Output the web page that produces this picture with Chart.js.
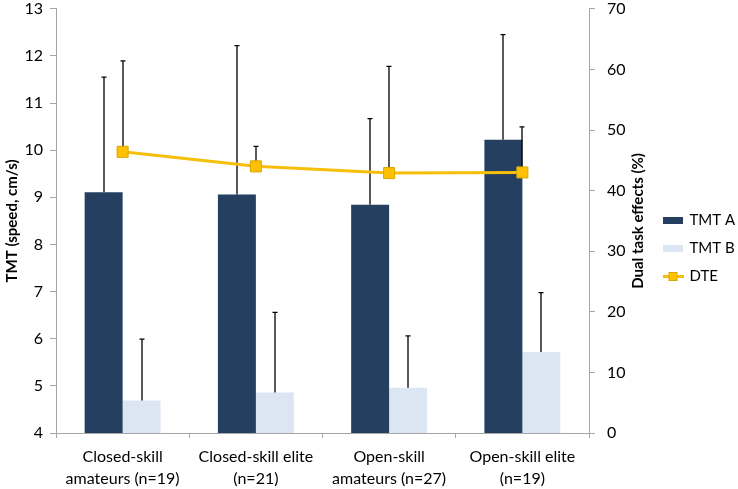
<!DOCTYPE html>
<html>
<head>
<meta charset="utf-8">
<script src="https://cdn.jsdelivr.net/npm/chart.js@4"></script>
<style>
  html, body { margin: 0; padding: 0; background: #fff; }
</style>
</head>
<body>
<canvas id="dteChart" width="738" height="489"></canvas>
<script>
// groups on the x axis (two lines each)
const groups = [
  ['Closed-skill', 'amateurs (n=19)'],
  ['Closed-skill elite', '(n=21)'],
  ['Open-skill', 'amateurs (n=27)'],
  ['Open-skill elite', '(n=19)']
];

// TMT speed (cm/s), left axis
const tmtA = [9.11, 9.06, 8.84, 10.22];
const tmtASd = [2.44, 3.16, 1.83, 2.23];
const tmtB = [4.69, 4.86, 4.96, 5.72];
const tmtBSd = [1.30, 1.70, 1.10, 1.26];

// dual task effects (%), right axis
const dte = [46.4, 44.0, 42.9, 43.0];
const dteSd = [15.0, 3.3, 17.6, 7.5];

const leftTicks = { min: 4, max: 13, step: 1 };
const rightTicks = { min: 0, max: 70, step: 10 };

const navy = '#243F60';
const pale = '#DCE6F2';
const gold = '#F5BF0A';
const axisGrey = '#A6A6A6';
const font = 'Lato, "Open Sans", sans-serif';

// little pictures for the legend
function swatch(color) {
  const c = document.createElement('canvas');
  c.width = 20; c.height = 7;
  const g = c.getContext('2d');
  g.fillStyle = color;
  g.fillRect(0, 0, 20, 7);
  return c;
}
function lineSwatch() {
  const c = document.createElement('canvas');
  c.width = 21; c.height = 9;
  const g = c.getContext('2d');
  g.fillStyle = gold;
  g.fillRect(0, 3, 21, 3);
  g.fillStyle = '#FFC000';
  g.fillRect(6.5, 0.5, 8, 8);
  g.strokeStyle = '#D9A800';
  g.lineWidth = 1;
  g.strokeRect(6.5, 0.5, 8, 8);
  return c;
}

// error bars, upward only, drawn with each series
function drawErrors(chart, index) {
  const ds = chart.data.datasets[index];
  if (!ds.errors) return;
  const meta = chart.getDatasetMeta(index);
  const scale = chart.scales[meta.yAxisID];
  const ctx = chart.ctx;
  ctx.save();
  ctx.strokeStyle = '#000';
  ctx.lineWidth = 1.3;
  meta.data.forEach((el, j) => {
    const x = Math.round(el.x);
    const y0 = scale.getPixelForValue(ds.data[j]);
    const y1 = scale.getPixelForValue(ds.data[j] + ds.errors[j]);
    ctx.beginPath();
    ctx.moveTo(x, y0);
    ctx.lineTo(x, y1);
    ctx.moveTo(x - 2.5, y1);
    ctx.lineTo(x + 2.5, y1);
    ctx.stroke();
  });
  ctx.restore();
}

const errorBars = {
  id: 'errorBars',
  beforeDatasetDraw(chart, args) {
    if (args.meta.type === 'line') drawErrors(chart, args.index);
  },
  afterDatasetDraw(chart, args) {
    if (args.meta.type === 'bar') drawErrors(chart, args.index);
  }
};

// right axis title reads bottom-to-top like the left one
const rightTitle = {
  id: 'rightTitle',
  afterDraw(chart) {
    const { ctx, chartArea } = chart;
    ctx.save();
    ctx.translate(638, (chartArea.top + chartArea.bottom) / 2);
    ctx.rotate(-Math.PI / 2);
    ctx.font = 'bold 15px ' + font;
    ctx.fillStyle = '#000';
    ctx.textAlign = 'center';
    ctx.textBaseline = 'middle';
    ctx.fillText('Dual task effects (%)', 0, 0);
    ctx.restore();
  }
};

const noPad = (scale) => {
  scale.paddingTop = 0;
  scale.paddingBottom = 0;
};

const ctx = document.getElementById('dteChart').getContext('2d');
new Chart(ctx, {
  type: 'bar',
  data: {
    labels: groups,
    datasets: [
      {
        label: 'TMT A',
        data: tmtA,
        errors: tmtASd,
        backgroundColor: navy,
        yAxisID: 'y',
        order: 1,
        categoryPercentage: 0.57,
        barPercentage: 1.0,
        pointStyle: swatch(navy)
      },
      {
        label: 'TMT B',
        data: tmtB,
        errors: tmtBSd,
        backgroundColor: pale,
        yAxisID: 'y',
        order: 1,
        categoryPercentage: 0.57,
        barPercentage: 1.0,
        pointStyle: swatch(pale)
      },
      {
        type: 'line',
        label: 'DTE',
        data: dte,
        errors: dteSd,
        yAxisID: 'y1',
        order: 0,
        borderColor: gold,
        borderWidth: 3,
        backgroundColor: '#FFC000',
        pointStyle: 'rect',
        pointRadius: 7.8,
        pointBorderColor: '#D9A800',
        pointBorderWidth: 1,
        pointBackgroundColor: '#FFC000',
        tension: 0
      }
    ]
  },
  options: {
    responsive: false,
    animation: false,
    layout: { padding: { top: 8, left: 0, right: 0, bottom: 0 } },
    plugins: {
      tooltip: { enabled: false },
      legend: {
        position: 'right',
        align: 'center',
        maxWidth: 87,
        labels: {
          usePointStyle: true,
          pointStyleWidth: 18,
          padding: 13,
          color: '#000',
          font: { family: font, size: 15 },
          sort: (a, b) => a.datasetIndex - b.datasetIndex,
          generateLabels(chart) {
            return chart.data.datasets.map((ds, i) => ({
              text: ds.label,
              pointStyle: ds.pointStyle === 'rect' ? lineSwatch() : ds.pointStyle,
              fillStyle: 'transparent',
              strokeStyle: 'transparent',
              lineWidth: 0,
              fontColor: '#000',
              datasetIndex: i,
              hidden: false
            }));
          }
        }
      }
    },
    scales: {
      x: {
        offset: true,
        grid: {
          offset: true,
          drawOnChartArea: false,
          tickLength: 5,
          color: axisGrey
        },
        border: { display: true, color: axisGrey },
        ticks: {
          color: '#000',
          padding: 8,
          maxRotation: 0,
          font: { family: font, size: 16, lineHeight: 1.38 }
        },
        afterFit(scale) {
          scale.height = 56;
          scale.paddingLeft = 0;
          scale.paddingRight = 0;
        }
      },
      y: {
        position: 'left',
        min: leftTicks.min,
        max: leftTicks.max,
        grid: { drawOnChartArea: false, tickLength: 6, color: axisGrey },
        border: { display: true, color: axisGrey },
        ticks: {
          stepSize: leftTicks.step,
          color: '#000',
          padding: 7,
          font: { family: font, size: 16 }
        },
        title: {
          display: true,
          text: 'TMT (speed, cm/s)',
          color: '#000',
          padding: { top: 3, bottom: 0 },
          font: { family: font, size: 15, weight: 'bold' }
        },
        afterFit(scale) {
          scale.width = 56;
          noPad(scale);
        }
      },
      y1: {
        position: 'right',
        min: rightTicks.min,
        max: rightTicks.max,
        grid: { drawOnChartArea: false, tickLength: 6, color: axisGrey },
        border: { display: true, color: axisGrey },
        ticks: {
          stepSize: rightTicks.step,
          color: '#000',
          padding: 12,
          font: { family: font, size: 16 }
        },
        afterFit(scale) {
          scale.width = 62;
          noPad(scale);
        }
      }
    }
  },
  plugins: [errorBars, rightTitle]
});
</script>
</body>
</html>
